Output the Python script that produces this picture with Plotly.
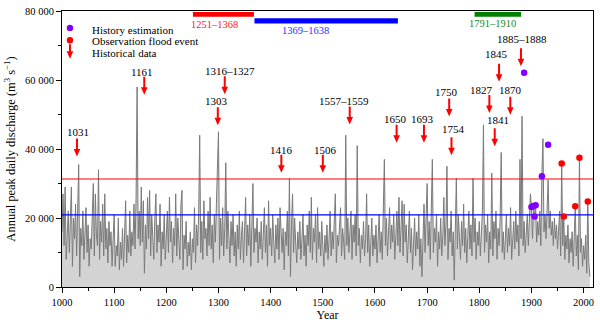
import plotly.graph_objects as go

# ---------------- data ----------------
years = list(range(1000, 2013, 2))
# annual peak daily discharge, thousand m3/s (read every 2nd year from the picture)
discharge_k = [
    16, 27, 12, 29, 8, 18, 22, 10, 23, 29, 6, 20, 14, 24, 9, 19, 35.5, 3, 17, 12, 22, 8, 16, 23, 10,
    18, 6, 14, 11, 21, 30, 9, 27, 15, 12, 34, 8, 19, 13, 24, 9, 27, 11, 17, 7, 19, 12, 16, 6, 14,
    21, 6, 12, 9, 20, 5, 13, 8, 17, 6, 14, 25, 7, 15, 10, 22, 9, 16, 12, 24, 11, 26, 58, 14, 22,
    12, 29, 13, 25, 4, 18, 11, 26, 14, 28, 9, 21, 15, 8, 20, 27, 10, 18, 13, 24, 6, 16, 11, 21, 8,
    15, 22, 10, 26, 13, 19, 7, 17, 12, 27, 9, 20, 14, 8, 24, 28, 5, 15, 11, 19, 6, 13, 9, 16, 5,
    14, 10, 23, 7, 18, 12, 21, 44, 10, 19, 8, 25, 14, 17, 9, 22, 12, 26, 11, 18, 7, 21, 13, 24, 34,
    45, 8, 20, 12, 23, 9, 17, 36, 11, 22, 14, 7, 19, 12, 21, 9, 16, 6, 18, 11, 22, 8, 15, 19, 7,
    14, 26, 9, 18, 12, 21, 6, 15, 30, 10, 17, 13, 20, 7, 16, 11, 19, 8, 15, 23, 10, 18, 6, 25, 12,
    17, 9, 21, 13, 7, 18, 11, 20, 8, 23, 14, 10, 17, 5, 16, 12, 22, 9, 31.5, 3, 18, 27, 10, 20, 13,
    7, 16, 11, 19, 8, 14, 21, 9, 15, 6, 18, 12, 22, 10, 26, 8, 17, 13, 21, 7, 23, 11, 16, 9, 19,
    12, 6, 15, 10, 18, 8, 14, 22, 9, 16, 11, 20, 27, 7, 15, 12, 19, 23, 9, 17, 13, 8, 44, 12, 20,
    10, 16, 22, 8, 18, 13, 21, 9, 41, 12, 17, 7, 15, 11, 19, 9, 14, 27, 10, 18, 6, 13, 20, 9, 15,
    11, 18, 7, 14, 21, 10, 16, 8, 19, 37, 12, 20, 9, 15, 23, 11, 18, 13, 21, 8, 16, 22, 12, 26, 10,
    19, 25, 9, 24, 13, 18, 7, 15, 22, 10, 17, 5, 14, 20, 9, 16, 11, 21, 6, 14, 3, 18, 24, 10, 20,
    30, 12, 19, 8, 22, 37, 10, 17, 13, 21, 6, 16, 11, 20, 9, 15, 26, 12, 18, 35, 8, 17, 13, 22, 9,
    16, 2, 18, 31.5, 11, 21, 14, 8, 19, 12, 24, 10, 17, 7, 15, 22, 11, 18, 9, 31.5, 13, 20, 8, 16, 12,
    19, 9, 15, 22, 47, 10, 18, 13, 21, 7, 16, 11, 33, 9, 19, 14, 22, 8, 17, 12, 20, 39, 10, 16, 8,
    14, 21, 10, 17, 12, 23, 8, 15, 19, 11, 22, 13, 18, 9, 37, 14, 49.5, 12, 19, 10, 16, 21, 12, 18, 27,
    23.2, 14, 23.5, 20.4, 23.7, 13, 19, 15, 22, 12, 32.1, 43, 16, 21, 14, 24, 31, 17, 22, 15, 19, 12, 20, 14, 18,
    11, 16, 22, 9, 35.8, 12, 20.4, 8, 15, 11, 18, 7, 14, 10, 16, 6, 13, 23.4, 9, 15, 5, 37.5, 10, 14, 6,
    12, 8, 15, 4, 24.8, 7, 3,
]

hist_est_years = [1886, 1900, 1904, 1906, 1908, 1920, 1932]
hist_est_values = [62100, 23200, 23500, 20400, 23700, 32100, 41200]

obs_years = [1958, 1962, 1984, 1992, 2008]
obs_values = [35800, 20400, 23400, 37500, 24800]

threshold_values = [31300, 20900]
threshold_colors = ["#ff0000", "#0000ff"]

flood_labels = ["1031", "1161", "1316\u20131327", "1303", "1416", "1506", "1557\u20131559",
                "1650", "1693", "1750", "1754", "1827", "1841", "1845", "1870", "1885\u20131888"]

period_labels = ["1251\u20131368", "1369\u20131638", "1791\u20131910"]
period_start = [1251, 1369, 1791]
period_end = [1368, 1644, 1880]

x_tick_vals = list(range(1000, 2001, 100))
x_tick_text = [str(v) for v in x_tick_vals]
x_minor_vals = list(range(1050, 2001, 100))
y_tick_vals = [0, 20000, 40000, 60000, 80000]
y_tick_text = ["0", "20 000", "40 000", "60 000", "80 000"]
y_minor_vals = [10000, 30000, 50000, 70000]

# ---------------- placement of annotations (layout) ----------------
arrow_x = [1028.7, 1157.7, 1312, 1298.7, 1420.5, 1500, 1551.6, 1641.5, 1693.9, 1742.3,
           1746.7, 1819.3, 1829.6, 1837.9, 1859.5, 1879.9]
arrow_tip = [37800, 55700, 55900, 46900, 33100, 33100, 47100, 41800, 41800, 49400,
             38200, 50400, 40800, 59500, 49900, 64000]
label_x = [1031, 1152.8, 1321.6, 1295.4, 1420.5, 1504.6, 1540.2, 1639.6, 1692, 1737,
           1751.2, 1804.8, 1835.4, 1833.5, 1859.5, 1882.4]
label_y = [44900, 62400, 62600, 53800, 39700, 39600, 54000, 48700, 48700, 56400,
           45800, 57100, 48400, 67400, 57100, 72000]
period_colors = ["#ff0000", "#0000ff", "#008000"]
period_text_colors = ["#ff2020", "#3030ff", "#1a8a1a"]
period_y = [(78300, 79700), (76400, 77900), (78300, 79700)]
period_label_x = [1291.6, 1466, 1826]
period_label_y = [76000, 74400, 76300]

FONT = "Liberation Serif, Times New Roman, serif"
X_MIN, X_MAX = 1000, 2018
RED = "#ff0000"


def arrow_path(length):
    # down-pointing arrow, tip at (0,0), pixel offsets (y up)
    return (f"M -1 {length} L 1 {length} L 1 7.5 L 3.3 7.5 L 0 0 L -3.3 7.5 L -1 7.5 Z")


fig = go.Figure()
fig.add_trace(go.Scatter(
    x=years, y=[v * 1000 for v in discharge_k], mode="lines",
    line=dict(color="#7a7a7a", width=1.0), fill="tozeroy", fillcolor="#d3d3d3",
    hoverinfo="skip", showlegend=False))
for val, col in zip(threshold_values, threshold_colors):
    fig.add_trace(go.Scatter(x=[X_MIN, X_MAX], y=[val, val], mode="lines",
                             line=dict(color=col, width=1.2), showlegend=False))
fig.add_trace(go.Scatter(x=hist_est_years, y=hist_est_values, mode="markers",
                         marker=dict(color="#8000ff", size=6.5), name="History estimation",
                         showlegend=False))
fig.add_trace(go.Scatter(x=obs_years, y=obs_values, mode="markers",
                         marker=dict(color=RED, size=6.5), name="Observation flood event",
                         showlegend=False))

annotations = []
shapes = []
for ax_, tip, lab, lx, ly in zip(arrow_x, arrow_tip, flood_labels, label_x, label_y):
    shapes.append(dict(type="path", xref="x", yref="y", xsizemode="pixel", ysizemode="pixel",
                       xanchor=ax_, yanchor=tip, path=arrow_path(18),
                       fillcolor=RED, line=dict(width=0)))
    annotations.append(dict(x=lx, y=ly, xref="x", yref="y", text=lab, showarrow=False,
                            font=dict(family=FONT, size=11, color="black"),
                            xanchor="center", yanchor="middle"))

for s, e, (y0, y1), col, lab, lx, ly, tcol in zip(period_start, period_end, period_y, period_colors,
                                               period_labels, period_label_x, period_label_y,
                                               period_text_colors):
    shapes.append(dict(type="rect", xref="x", yref="y", x0=s, x1=e, y0=y0, y1=y1,
                       fillcolor=col, line=dict(width=0)))
    annotations.append(dict(x=lx, y=ly, xref="x", yref="y", text=lab, showarrow=False,
                            font=dict(family=FONT, size=10.5, color=tcol),
                            xanchor="center", yanchor="middle"))

# manual legend (paper coordinates)
legend_items = ["History estimation", "Observation flood event", "Historical data"]
legend_text_y = [0.932, 0.890, 0.849]
for col, yy in zip(["#8000ff", RED], [0.9388, 0.8939]):
    shapes.append(dict(type="circle", xref="paper", yref="paper", xsizemode="pixel",
                       ysizemode="pixel", xanchor=0.015, yanchor=yy, x0=-3.2, x1=3.2,
                       y0=-3.2, y1=3.2, fillcolor=col, line=dict(width=0)))
shapes.append(dict(type="path", xref="paper", yref="paper", xsizemode="pixel", ysizemode="pixel",
                   xanchor=0.015, yanchor=0.8273, path=arrow_path(14.5),
                   fillcolor=RED, line=dict(width=0)))
for txt, yy in zip(legend_items, legend_text_y):
    annotations.append(dict(x=0.0526, y=yy, xref="paper", yref="paper", text=txt,
                            showarrow=False, xanchor="left", yanchor="middle",
                            font=dict(family=FONT, size=11, color="black")))

axis_common = dict(showline=True, linecolor="black", linewidth=1, mirror=True,
                   showgrid=False, zeroline=False, ticks="outside", ticklen=5,
                   tickwidth=1, tickcolor="black", tickfont=dict(family=FONT, size=10.5))

fig.update_layout(
    width=600, height=327,
    margin=dict(l=62, r=6, t=9, b=40),
    paper_bgcolor="white", plot_bgcolor="white",
    font=dict(family=FONT, size=11, color="black"),
    showlegend=False,
    xaxis=dict(range=[X_MIN, X_MAX], tickmode="array", tickvals=x_tick_vals, ticktext=x_tick_text,
               minor=dict(tickmode="array", tickvals=x_minor_vals, ticks="outside", ticklen=3,
                          tickcolor="black"),
               title=dict(text="Year", font=dict(family=FONT, size=12), standoff=3),
               **axis_common),
    yaxis=dict(range=[0, 80000], tickmode="array", tickvals=y_tick_vals, ticktext=y_tick_text,
               minor=dict(tickmode="array", tickvals=y_minor_vals, ticks="outside", ticklen=3,
                          tickcolor="black"),
               title=dict(text="Annual peak daily discharge (m<sup>3</sup> s<sup>\u22121</sup>)",
                          font=dict(family=FONT, size=12.5), standoff=6),
               **axis_common),
    annotations=annotations,
    shapes=shapes,
)

fig.write_html("out.html", config={"displayModeBar": False},
               post_script="document.body.style.margin='0';")
